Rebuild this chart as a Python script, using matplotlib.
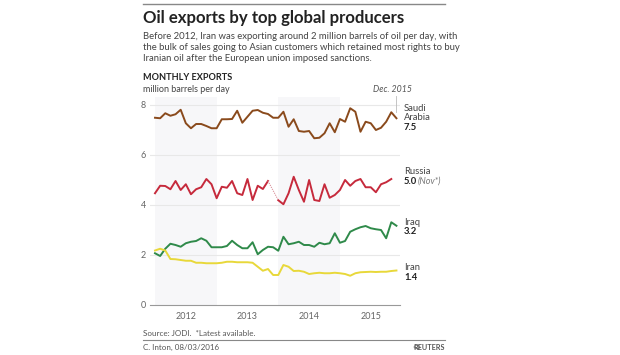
import matplotlib.pyplot as plt
import numpy as np

plt.rcParams['font.family'] = ['Lato', 'DejaVu Sans']

# monthly exports, million barrels per day, Jan 2012 - Dec 2015
years = ['2012', '2013', '2014', '2015']
saudi = [7.49, 7.47, 7.67, 7.57, 7.63, 7.81, 7.27, 7.07, 7.24, 7.24, 7.16, 7.07,
         7.07, 7.43, 7.43, 7.44, 7.77, 7.29, 7.53, 7.77, 7.80, 7.69, 7.64, 7.49,
         7.49, 7.73, 7.13, 7.43, 6.96, 6.93, 6.96, 6.67, 6.69, 6.87, 7.27, 6.91,
         7.44, 7.33, 7.87, 7.73, 6.93, 7.33, 7.27, 7.00, 7.09, 7.33, 7.71, 7.47]
russia = [4.47, 4.77, 4.76, 4.63, 4.96, 4.60, 4.83, 4.43, 4.63, 4.71, 5.04, 4.83,
          4.27, 4.73, 4.69, 4.96, 4.47, 4.40, 5.04, 4.20, 4.77, 4.64, 4.96, None,
          4.19, 4.03, 4.47, 5.13, 4.60, 4.13, 5.00, 4.20, 4.16, 4.83, 4.29, 4.40,
          4.60, 5.00, 4.77, 4.96, 5.04, 4.71, 4.71, 4.51, 4.83, 4.91, 5.04, None]
iraq = [2.07, 1.96, 2.25, 2.45, 2.40, 2.33, 2.47, 2.53, 2.56, 2.67, 2.57, 2.31,
        2.31, 2.31, 2.36, 2.57, 2.40, 2.27, 2.27, 2.51, 2.03, 2.20, 2.33, 2.31,
        2.17, 2.73, 2.43, 2.47, 2.53, 2.40, 2.40, 2.33, 2.49, 2.43, 2.47, 2.87,
        2.49, 2.56, 2.93, 3.03, 3.11, 3.16, 3.07, 3.03, 3.00, 2.67, 3.31, 3.17]
iran = [2.18, 2.25, 2.18, 1.84, 1.83, 1.80, 1.77, 1.77, 1.69, 1.69, 1.67, 1.67,
        1.67, 1.69, 1.73, 1.73, 1.71, 1.71, 1.71, 1.69, 1.53, 1.37, 1.44, 1.20,
        1.20, 1.60, 1.53, 1.36, 1.37, 1.33, 1.24, 1.27, 1.29, 1.27, 1.27, 1.29,
        1.27, 1.24, 1.17, 1.27, 1.31, 1.32, 1.33, 1.32, 1.33, 1.33, 1.36, 1.38]

W, H = 620, 355
fig = plt.figure(figsize=(6.2, 3.55), dpi=100)


def fx(x):
    return x / W


def fy(y):
    return 1 - y / H


ax = fig.add_axes([fx(150), fy(305), 250 / W, 208 / H])
x = np.arange(len(saudi))
ax.set_xlim((150 - 155) / 5.137, (400 - 155) / 5.137)
ax.set_ylim(0, 208 / 25)

# alternate year shading
for k in (0, 2):
    ax.axvspan(12 * k, 12 * k + 12, color='#f7f7f9', lw=0, zorder=0)

for v in (2, 4, 6, 8):
    ax.axhline(v, color='#e8e8e8', lw=0.8, zorder=1)

ru = np.array([np.nan if v is None else v for v in russia])
ax.plot(x, saudi, color='#8a4a1c', lw=1.4, zorder=3)
ax.plot(x, ru, color='#c62a3c', lw=1.4, zorder=3)
ax.plot([22, 24], [russia[22], russia[24]], color='#d9909a', lw=0.8, ls=(0, (1, 1)), zorder=3)
ax.plot(x, iraq, color='#2f8a4a', lw=1.4, zorder=3)
ax.plot(x, iran, color='#e8d83a', lw=1.4, zorder=3)

for s in ('top', 'right', 'left'):
    ax.spines[s].set_visible(False)
ax.spines['bottom'].set_color('#999999')
ax.spines['bottom'].set_linewidth(0.8)
ax.set_xticks([6, 18, 30, 42])
ax.set_xticklabels(years)
ax.set_yticks([0, 2, 4, 6, 8])
ax.tick_params(length=0, labelsize=6.5, colors='#666666', pad=3)
ax.tick_params(axis='x', pad=5)

# Dec. 2015 marker
fig.add_artist(plt.Line2D([fx(395.5), fx(395.5)], [fy(96), fy(112)], color='#bbbbbb', lw=0.6))
fig.text(fx(412), fy(90), 'Dec. 2015', fontsize=6.3, style='italic', color='#555555',
         ha='right', va='center')

# header
fig.add_artist(plt.Line2D([fx(143), fx(445)], [fy(4), fy(4)], color='#888888', lw=1.0))
fig.text(fx(143), fy(18), 'Oil exports by top global producers', fontsize=12.1,
         fontweight='bold', color='#222222', va='center')
sub = ('Before 2012, Iran was exporting around 2 million barrels of oil per day, with\n'
       'the bulk of sales going to Asian customers which retained most rights to buy\n'
       'Iranian oil after the European union imposed sanctions.')
fig.text(fx(143), fy(32), sub, fontsize=6.85, color='#444444', va='top', linespacing=1.27)
fig.text(fx(143), fy(77), 'MONTHLY EXPORTS', fontsize=6.6, fontweight='bold',
         color='#222222', va='center')
fig.text(fx(143), fy(89), 'million barrels per day', fontsize=6.5, color='#444444',
         va='center')

# series labels
lab = dict(fontsize=6.8, color='#444444', va='center')
bold = dict(fontsize=6.8, color='#222222', va='center', fontweight='bold')
fig.text(fx(404), fy(108.5), 'Saudi', **lab)
fig.text(fx(404), fy(118), 'Arabia', **lab)
fig.text(fx(404), fy(128), '7.5', **bold)
fig.text(fx(404), fy(172), 'Russia', **lab)
fig.text(fx(404), fy(181), '5.0', **bold)
fig.text(fx(418), fy(181), '(Nov*)', fontsize=6.5, color='#777777', style='italic',
         va='center')
fig.text(fx(404), fy(222), 'Iraq', **lab)
fig.text(fx(404), fy(231), '3.2', **bold)
fig.text(fx(404), fy(268), 'Iran', **lab)
fig.text(fx(404), fy(277), '1.4', **bold)

# footer
fig.text(fx(143), fy(334), 'Source: JODI.  *Latest available.', fontsize=5.8,
         color='#555555', va='center')
fig.add_artist(plt.Line2D([fx(143), fx(445)], [fy(339.5), fy(339.5)], color='#888888', lw=0.8))
fig.text(fx(143), fy(347), 'C. Inton, 08/03/2016', fontsize=5.8, color='#555555',
         va='center')
fig.text(fx(445), fy(347), 'REUTERS', fontsize=5.2, fontweight='bold', color='#555555',
         va='center', ha='right')
fig.add_artist(plt.Circle((fx(417), fy(347)), 2.8 / W, color='#999999',
                          transform=fig.transFigure, fill=False, lw=0.8))

fig.savefig('out.png', dpi=100)
